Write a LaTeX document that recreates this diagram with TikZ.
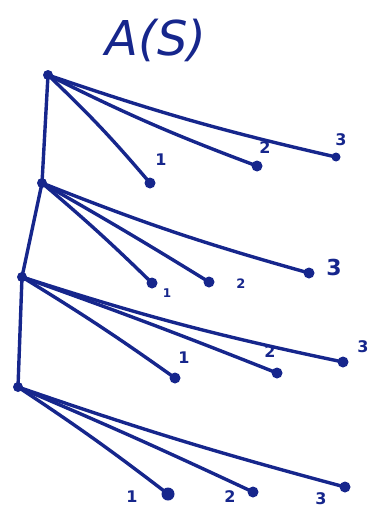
\documentclass[tikz,border=0pt]{standalone}
\usepackage{fontspec}
\setmainfont{DejaVu Sans}
\begin{document}
\begin{tikzpicture}[x=1pt,y=-1pt,
  ink/.style={draw=inkblue,line width=3.4pt,line cap=round,line join=round},
  dotnode/.style={circle,fill=inkblue,inner sep=0pt,minimum size=11pt},
  rootdot/.style={circle,fill=inkblue,inner sep=0pt,minimum size=10pt},
  lbl/.style={text=inkblue,font=\fontsize{16}{16}\selectfont\bfseries,inner sep=0pt}]
\definecolor{inkblue}{RGB}{22,38,140}
\useasboundingbox (0,0) rectangle (374,511);
% title
\node[text=inkblue,font=\fontsize{48}{48}\selectfont\itshape,inner sep=0pt] (title) at (156,40) {A(S)};
% spine
\node[rootdot] (r1) at (48,75) {};
\node[rootdot] (r2) at (42,183) {};
\node[rootdot] (r3) at (22,277) {};
\node[rootdot] (r4) at (18,387) {};
\draw[ink] (r1.center) -- (r2.center) -- (r3.center) -- (r4.center);
% level 1
\node[dotnode] (a1) at (150,183) {};
\node[dotnode] (a2) at (257,166) {};
\node[dotnode,minimum size=9pt] (a3) at (336,157) {};
\draw[ink] (r1.center) to[bend left=3] (a1.center);
\draw[ink] (r1.center) to[bend right=3] (a2.center);
\draw[ink] (r1.center) to[bend right=3] (a3.center);
\node[lbl] (la1) at (161,160) {1};
\node[lbl] (la2) at (265,148) {2};
\node[lbl] (la3) at (341,140) {3};
% level 2
\node[dotnode] (b1) at (152,283) {};
\node[dotnode] (b2) at (209,282) {};
\node[dotnode] (b3) at (309,273) {};
\draw[ink] (r2.center) to[bend left=2] (b1.center);
\draw[ink] (r2.center) to[bend left=1] (b2.center);
\draw[ink] (r2.center) to[bend right=3] (b3.center);
\node[lbl,font=\fontsize{12}{12}\selectfont\bfseries] (lb1) at (167,293) {1};
\node[lbl,font=\fontsize{13}{13}\selectfont\bfseries] (lb2) at (241,284) {2};
\node[lbl,font=\fontsize{22}{22}\selectfont\bfseries] (lb3) at (334,267) {3};
% level 3
\node[dotnode] (c1) at (175,378) {};
\node[dotnode] (c2) at (277,373) {};
\node[dotnode] (c3) at (343,362) {};
\draw[ink] (r3.center) to[bend left=2] (c1.center);
\draw[ink] (r3.center) to[bend left=1] (c2.center);
\draw[ink] (r3.center) to[bend right=3] (c3.center);
\node[lbl] (lc1) at (184,358) {1};
\node[lbl] (lc2) at (270,352) {2};
\node[lbl] (lc3) at (363,347) {3};
% level 4
\node[dotnode,minimum size=13pt] (d1) at (168,494) {};
\node[dotnode] (d2) at (253,492) {};
\node[dotnode] (d3) at (345,487) {};
\draw[ink] (r4.center) to[bend left=2] (d1.center);
\draw[ink] (r4.center) to[bend left=1] (d2.center);
\draw[ink] (r4.center) to[bend right=2] (d3.center);
\node[lbl] (ld1) at (132,497) {1};
\node[lbl] (ld2) at (230,497) {2};
\node[lbl] (ld3) at (321,499) {3};
\end{tikzpicture}
\end{document}
